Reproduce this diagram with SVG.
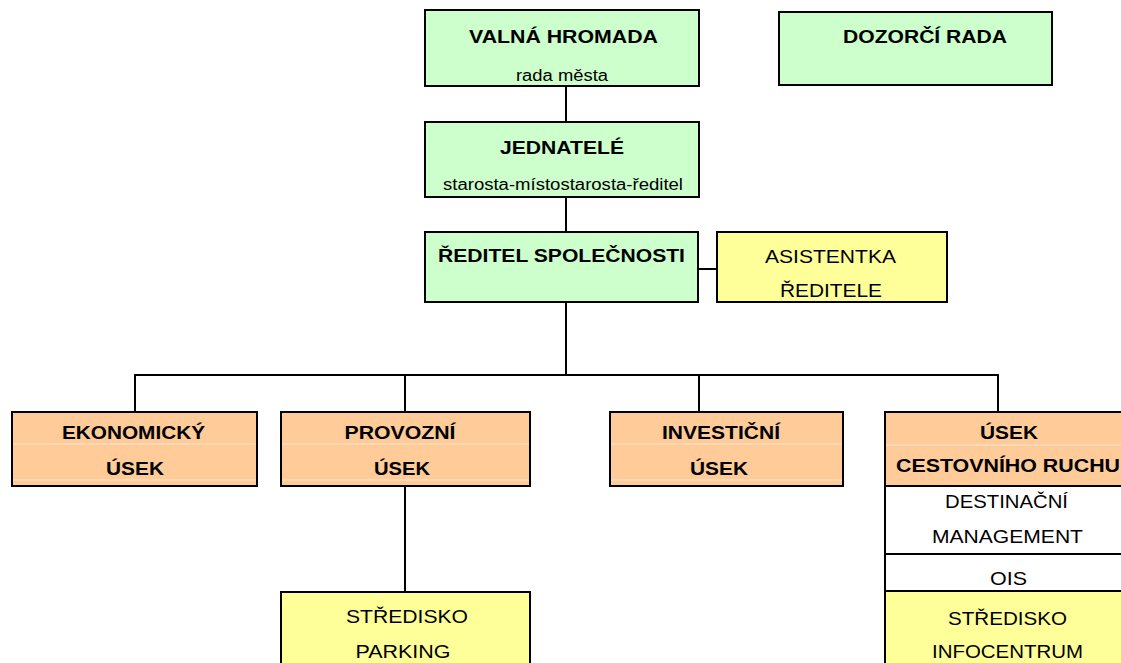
<svg xmlns="http://www.w3.org/2000/svg" width="1121" height="663" viewBox="0 0 1121 663">
<style>
.box{stroke:#000;stroke-width:2}
.g{fill:#ccffcc}.y{fill:#ffff99}.o{fill:#ffcc99}.w{fill:#ffffff}
.faint{stroke:#fde6cc;stroke-width:1}
.ln{stroke:#000;stroke-width:2;fill:none}
text{font-family:"Liberation Sans",Arial,sans-serif;fill:#000;text-anchor:middle}
.b{font-weight:bold;font-size:18px}
.r{font-size:19px}
.s{font-size:16px}
</style>
<rect width="1121" height="663" fill="#fff"/>
<g id="connectors">
<line class="ln" x1="566" y1="86" x2="566" y2="122"/>
<line class="ln" x1="566" y1="197" x2="566" y2="232"/>
<line class="ln" x1="698" y1="269" x2="717" y2="269"/>
<line class="ln" x1="566" y1="302" x2="566" y2="375"/>
<polyline class="ln" points="135,412 135,375 998,375 998,412"/>
<line class="ln" x1="405" y1="375" x2="405" y2="412"/>
<line class="ln" x1="699" y1="375" x2="699" y2="412"/>
<line class="ln" x1="405" y1="486" x2="405" y2="592"/>
</g>
<g id="valna-hromada">
<rect class="box g" x="425" y="10" width="274" height="76"/>
<text class="b" x="563.5" y="43" textLength="189" lengthAdjust="spacingAndGlyphs">VALNÁ HROMADA</text>
<text class="s" x="562" y="81" textLength="92" lengthAdjust="spacingAndGlyphs">rada města</text>
</g>
<g id="dozorci-rada">
<rect class="box g" x="779" y="12" width="273" height="73"/>
<text class="b" x="925" y="43" textLength="164" lengthAdjust="spacingAndGlyphs">DOZORČÍ RADA</text>
</g>
<g id="jednatele">
<rect class="box g" x="425" y="122" width="274" height="75"/>
<text class="b" x="562" y="154" textLength="124" lengthAdjust="spacingAndGlyphs">JEDNATELÉ</text>
<text class="s" x="563" y="190" textLength="240" lengthAdjust="spacingAndGlyphs">starosta-místostarosta-ředitel</text>
</g>
<g id="reditel">
<rect class="box g" x="425" y="232" width="273" height="70"/>
<text class="b" x="561.5" y="262" textLength="247" lengthAdjust="spacingAndGlyphs">ŘEDITEL SPOLEČNOSTI</text>
</g>
<g id="asistentka">
<rect class="box y" x="717" y="232" width="230" height="70"/>
<text class="r" x="830.5" y="263" textLength="131" lengthAdjust="spacingAndGlyphs">ASISTENTKA</text>
<text class="r" x="831" y="297" textLength="102" lengthAdjust="spacingAndGlyphs">ŘEDITELE</text>
</g>
<g id="ekonomicky">
<rect class="box o" x="12" y="412" width="245" height="74"/>
<line class="faint" x1="13" y1="444" x2="256" y2="444"/>
<line class="faint" x1="13" y1="480" x2="256" y2="480"/>
<text class="b" x="133.5" y="439" textLength="143" lengthAdjust="spacingAndGlyphs">EKONOMICKÝ</text>
<text class="b" x="135" y="475" textLength="58" lengthAdjust="spacingAndGlyphs">ÚSEK</text>
</g>
<g id="provozni">
<rect class="box o" x="281" y="412" width="249" height="74"/>
<line class="faint" x1="282" y1="444" x2="529" y2="444"/>
<line class="faint" x1="282" y1="480" x2="529" y2="480"/>
<text class="b" x="400" y="439" textLength="111" lengthAdjust="spacingAndGlyphs">PROVOZNÍ</text>
<text class="b" x="402" y="475" textLength="56" lengthAdjust="spacingAndGlyphs">ÚSEK</text>
</g>
<g id="investicni">
<rect class="box o" x="610" y="412" width="233" height="74"/>
<line class="faint" x1="611" y1="444" x2="842" y2="444"/>
<line class="faint" x1="611" y1="480" x2="842" y2="480"/>
<text class="b" x="721" y="439" textLength="118" lengthAdjust="spacingAndGlyphs">INVESTIČNÍ</text>
<text class="b" x="719" y="475" textLength="58" lengthAdjust="spacingAndGlyphs">ÚSEK</text>
</g>
<g id="usek-cestovniho-ruchu">
<rect class="box o" x="885" y="412" width="250" height="74"/>
<line class="faint" x1="886" y1="445" x2="1121" y2="445"/>
<text class="b" x="1009" y="439" textLength="58" lengthAdjust="spacingAndGlyphs">ÚSEK</text>
<text class="b" x="1008" y="472" textLength="224" lengthAdjust="spacingAndGlyphs">CESTOVNÍHO RUCHU</text>
</g>
<g id="destinacni-management">
<rect class="box w" x="885" y="486" width="250" height="68"/>
<text class="r" x="1006.5" y="508" textLength="123" lengthAdjust="spacingAndGlyphs">DESTINAČNÍ</text>
<text class="r" x="1007.5" y="543" textLength="151" lengthAdjust="spacingAndGlyphs">MANAGEMENT</text>
</g>
<g id="ois">
<rect class="box w" x="885" y="554" width="250" height="37"/>
<text class="r" x="1008.5" y="585" textLength="37" lengthAdjust="spacingAndGlyphs">OIS</text>
</g>
<g id="stredisko-infocentrum">
<rect class="box y" x="885" y="591" width="250" height="80"/>
<text class="r" x="1007.5" y="625" textLength="119" lengthAdjust="spacingAndGlyphs">STŘEDISKO</text>
<text class="r" x="1007.5" y="658" textLength="151" lengthAdjust="spacingAndGlyphs">INFOCENTRUM</text>
</g>
<g id="stredisko-parking">
<rect class="box y" x="281" y="592" width="249" height="80"/>
<text class="r" x="407" y="623" textLength="122" lengthAdjust="spacingAndGlyphs">STŘEDISKO</text>
<text class="r" x="403" y="658" textLength="95" lengthAdjust="spacingAndGlyphs">PARKING</text>
</g>
</svg>
